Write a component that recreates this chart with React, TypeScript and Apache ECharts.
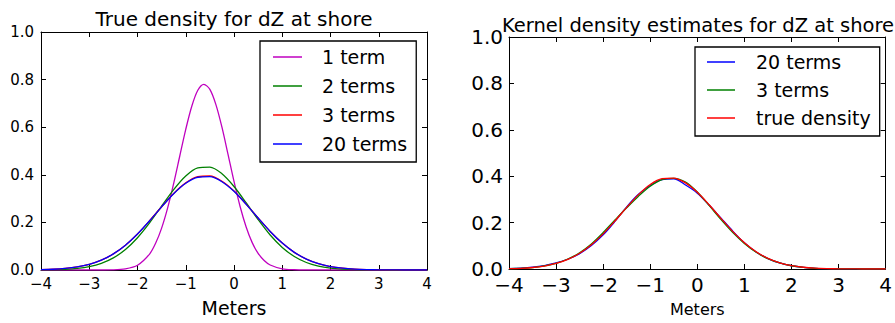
import React, { useEffect, useRef } from "react";
import * as echarts from "echarts";

const xs = [-4, -3.75, -3.5, -3.25, -3, -2.75, -2.5, -2.25, -2, -1.75, -1.5, -1.25, -1, -0.75, -0.5, -0.25, 0, 0.25, 0.5, 0.75, 1, 1.25, 1.5, 1.75, 2, 2.25, 2.5, 2.75, 3, 3.25, 3.5, 3.75, 4];

const oneTermX = [-4, -3, -2.5, -2.25, -2, -1.75, -1.625, -1.5, -1.375, -1.25, -1.125, -1, -0.875, -0.75, -0.625, -0.5, -0.375, -0.25, -0.125, 0, 0.125, 0.25, 0.375, 0.5, 0.625, 0.75, 1, 1.25, 1.5, 2, 3, 4];
const oneTerm = [0, 0, 0.0009, 0.0047, 0.02, 0.067, 0.112, 0.176, 0.261, 0.364, 0.478, 0.591, 0.688, 0.755, 0.78, 0.759, 0.695, 0.6, 0.487, 0.372, 0.268, 0.182, 0.116, 0.07, 0.04, 0.021, 0.005, 0.001, 0.0001, 0, 0, 0];

const twoTerms = [0.0005, 0.0012, 0.0029, 0.0067, 0.0142, 0.0279, 0.0509, 0.0862, 0.1357, 0.198, 0.2687, 0.338, 0.395, 0.429, 0.4324, 0.4045, 0.351, 0.283, 0.212, 0.147, 0.095, 0.0569, 0.0316, 0.0163, 0.0078, 0.0035, 0.0014, 0.0006, 0.0002, 0.0001, 0, 0, 0];
const threeTerms = [0.0014, 0.0031, 0.0065, 0.0128, 0.0238, 0.0413, 0.0678, 0.1045, 0.1515, 0.2068, 0.2656, 0.3215, 0.366, 0.392, 0.395, 0.373, 0.332, 0.277, 0.2184, 0.162, 0.1131, 0.0742, 0.0459, 0.0267, 0.0146, 0.0075, 0.0036, 0.0017, 0.0007, 0.0003, 0.0001, 0, 0];
const twentyTerms = [0.0014, 0.0031, 0.0065, 0.0128, 0.0238, 0.0413, 0.0678, 0.1045, 0.1515, 0.2068, 0.2654, 0.3207, 0.3644, 0.3897, 0.392, 0.371, 0.3305, 0.277, 0.2184, 0.162, 0.1131, 0.0742, 0.0459, 0.0267, 0.0146, 0.0075, 0.0036, 0.0017, 0.0007, 0.0003, 0.0001, 0, 0];

const kde20 = [0.002, 0.004, 0.008, 0.015, 0.026, 0.042, 0.066, 0.101, 0.147, 0.205, 0.268, 0.322, 0.36, 0.385, 0.389, 0.362, 0.327, 0.276, 0.22, 0.164, 0.113, 0.073, 0.045, 0.026, 0.014, 0.007, 0.003, 0.0015, 0.0007, 0.0003, 0.0001, 0, 0];
const kde3 = [0.001, 0.003, 0.006, 0.013, 0.024, 0.043, 0.07, 0.108, 0.157, 0.211, 0.264, 0.314, 0.357, 0.385, 0.391, 0.375, 0.332, 0.274, 0.214, 0.158, 0.11, 0.072, 0.045, 0.026, 0.014, 0.007, 0.003, 0.0015, 0.0006, 0.0002, 0.0001, 0, 0];
const trueDensity = twentyTerms;

const leftLegend = ["1 term", "2 terms", "3 terms", "20 terms"];
const rightLegend = ["20 terms ", "3 terms ", "true density"];
const titles = ["True density for dZ at shore", "Kernel density estimates for dZ at shore"];
const xLabel = "Meters";

const FONT = "DejaVu Sans";
const MAG = "#bf00bf";
const GRN = "#008000";
const RED = "#ff0000";
const BLU = "#0000ff";

const pairs = (x: number[], y: number[]) => x.map((v, i) => [v, y[i]]);
const minus = (v: number) => String(v).replace("-", "\u2212");

export default function App() {
  const ref = useRef<HTMLDivElement>(null);
  useEffect(() => {
    if (!ref.current) return;
    const chart = echarts.init(ref.current, null, { renderer: "svg" });
    const axisLine = { show: true, onZero: false, lineStyle: { color: "#000", width: 1 } };
    const tick = (show: boolean) => ({ show, inside: true, length: 5, lineStyle: { color: "#000", width: 1 } });
    const mkX = (grid: number, fs: number, nameSize: number, nameGap: number) => [
      {
        type: "value", gridIndex: grid, min: -4, max: 4, interval: 1, position: "bottom",
        axisLine, axisTick: tick(true), splitLine: { show: false },
        axisLabel: { show: true, margin: 6, fontSize: fs, fontFamily: FONT, color: "#000", formatter: minus, showMinLabel: true, showMaxLabel: true },
        name: xLabel, nameLocation: "middle", nameGap, nameTextStyle: { fontSize: nameSize, fontFamily: FONT, color: "#000" },
      },
      {
        type: "value", gridIndex: grid, min: -4, max: 4, interval: 1, position: "top",
        axisLine, axisTick: tick(true), splitLine: { show: false }, axisLabel: { show: false },
      },
    ];
    const mkY = (grid: number, fs: number, margin: number) => [
      {
        type: "value", gridIndex: grid, min: 0, max: 1, interval: 0.2, position: "left",
        axisLine, axisTick: tick(true), splitLine: { show: false },
        axisLabel: { show: true, margin, fontSize: fs, fontFamily: FONT, color: "#000", formatter: (v: number) => v.toFixed(1), showMinLabel: true, showMaxLabel: true },
      },
      {
        type: "value", gridIndex: grid, min: 0, max: 1, interval: 0.2, position: "right",
        axisLine, axisTick: tick(true), splitLine: { show: false }, axisLabel: { show: false },
      },
    ];
    const line = (name: string, color: string, data: number[][], xi: number, yi: number) => ({
      type: "line", name, data, xAxisIndex: xi, yAxisIndex: yi, symbol: "none", smooth: 0.3,
      lineStyle: { color, width: 1.3 }, itemStyle: { color }, z: 2,
    });
    chart.setOption({
      animation: false,
      backgroundColor: "#fff",
      grid: [
        { left: 41, top: 32, width: 386, height: 238 },
        { left: 509, top: 37, width: 378, height: 232 },
      ],
      xAxis: [...mkX(0, 15, 19, 28), ...mkX(1, 20, 16, 32)],
      yAxis: [...mkY(0, 15, 7), ...mkY(1, 20, 6)],
      legend: [
        {
          data: leftLegend, orient: "vertical", left: 260, top: 41, icon: "rect",
          padding: [1.5, 9, 3.5, 13], itemWidth: 29, itemHeight: 1.5, itemGap: 0,
          borderColor: "#000", borderWidth: 1.3, backgroundColor: "#fff",
          textStyle: { fontSize: 19, fontFamily: FONT, color: "#000", lineHeight: 29, padding: [0, 0, 0, 15] },
        },
        {
          data: rightLegend, orient: "vertical", left: 695, top: 47, icon: "rect",
          padding: [1, 9, 4, 12], itemWidth: 28, itemHeight: 1.5, itemGap: 0,
          borderColor: "#000", borderWidth: 1.3, backgroundColor: "#fff",
          textStyle: { fontSize: 19, fontFamily: FONT, color: "#000", lineHeight: 28, padding: [0, 0, 0, 16] },
        },
      ],
      graphic: [
        { type: "text", x: 234, y: 19, style: { text: titles[0], font: `20px "${FONT}"`, fill: "#000", textAlign: "center", textVerticalAlign: "middle" } },
        { type: "text", x: 698, y: 25.5, style: { text: titles[1], font: `19.5px "${FONT}"`, fill: "#000", textAlign: "center", textVerticalAlign: "middle" } },
      ],
      series: [
        line(leftLegend[0], MAG, pairs(oneTermX, oneTerm), 0, 0),
        line(leftLegend[1], GRN, pairs(xs, twoTerms), 0, 0),
        line(leftLegend[2], RED, pairs(xs, threeTerms), 0, 0),
        line(leftLegend[3], BLU, pairs(xs, twentyTerms), 0, 0),
        line(rightLegend[0], BLU, pairs(xs, kde20), 2, 2),
        line(rightLegend[1], GRN, pairs(xs, kde3), 2, 2),
        line(rightLegend[2], RED, pairs(xs, trueDensity), 2, 2),
      ],
    });
    return () => chart.dispose();
  }, []);
  return <div ref={ref} style={{ position: "fixed", left: 0, top: 0, width: 895, height: 323 }} />;
}
